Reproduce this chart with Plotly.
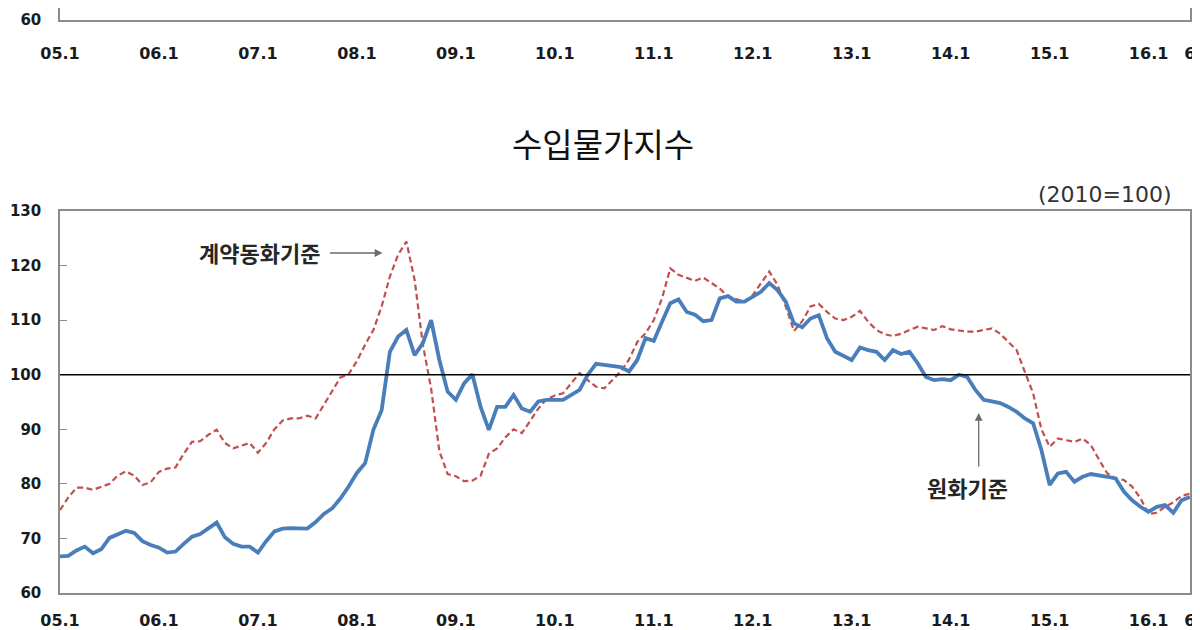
import plotly.graph_objects as go

# Months: 2005.01 .. 2016.06 (index 0..137)
tick_labels = ["05.1", "06.1", "07.1", "08.1", "09.1", "10.1", "11.1",
               "12.1", "13.1", "14.1", "15.1", "16.1", "6"]
tick_months = [0, 12, 24, 36, 48, 60, 72, 84, 96, 108, 120, 132, 137]

# 계약통화기준 (contract currency basis)
contract = [
    75.2, 77.5, 79.3, 79.3, 78.9, 79.5, 80.0, 81.5, 82.3, 81.5, 79.8, 80.3,
    82.2, 82.8, 83.0, 85.5, 87.7, 87.8, 89.0, 89.9, 87.5, 86.5, 87.0, 87.5,
    85.7, 87.5, 90.0, 91.6, 92.0, 92.0, 92.5, 92.0, 94.5, 97.0, 99.5, 100.1,
    102.5, 105.5, 108.2, 112.5, 118.0, 122.0, 124.4, 117.4, 105.5, 97.5, 86.0, 81.8,
    81.4, 80.5, 80.6, 81.5, 85.5, 86.5, 88.5, 90.0, 89.3, 91.5, 93.8, 95.5,
    96.2, 96.6, 98.5, 100.3, 99.0, 97.8, 97.5, 99.0, 100.6, 102.8, 106.0, 107.6,
    110.0, 114.0, 119.5, 118.3, 117.7, 117.2, 117.8, 116.8, 115.8, 114.3, 113.8, 113.4,
    114.6, 116.8, 118.9, 116.5, 112.5, 108.0, 109.8, 112.5, 113.0, 111.5, 110.3, 110.0,
    110.6, 111.7, 109.7, 108.2, 107.4, 107.1, 107.5, 108.2, 108.8, 108.5, 108.2, 108.9,
    108.3, 108.1, 107.9, 107.9, 108.2, 108.5, 107.5, 106.0, 104.5, 100.5, 96.6, 90.0,
    86.8, 88.3, 88.0, 87.7, 88.3, 87.1, 84.4, 81.9, 81.0, 80.7, 79.5, 77.4,
    74.5, 74.7, 75.8, 76.6, 77.8, 78.2,
]

# 원화기준 (KRW basis)
won = [
    66.7, 66.8, 67.8, 68.5, 67.3, 68.0, 70.1, 70.8, 71.4, 71.0, 69.5, 68.8,
    68.3, 67.4, 67.6, 69.0, 70.3, 70.8, 71.8, 72.9, 70.2, 69.0, 68.5, 68.5,
    67.4, 69.5, 71.3, 71.8, 71.9, 71.8, 71.8, 73.0, 74.5, 75.5, 77.3, 79.5,
    82.0, 83.8, 89.9, 93.5, 104.2, 107.0, 108.2, 103.6, 105.8, 110.0, 102.7, 96.9,
    95.4, 98.4, 100.1, 94.1, 89.9, 94.1, 94.1, 96.3, 93.8, 93.2, 95.1, 95.4,
    95.4, 95.4, 96.3, 97.2, 100.0, 102.0, 101.8, 101.6, 101.4, 100.6, 102.7, 106.7,
    106.2, 109.7, 113.1, 113.8, 111.5, 111.0, 109.8, 110.0, 114.0, 114.4, 113.4, 113.4,
    114.4, 115.2, 116.8, 115.5, 113.4, 109.4, 108.7, 110.3, 110.9, 106.7, 104.2, 103.4,
    102.7, 105.0, 104.5, 104.2, 102.7, 104.5, 103.8, 104.2, 102.1, 99.6, 99.0, 99.2,
    99.0, 100.0, 99.6, 97.2, 95.4, 95.1, 94.8, 94.1, 93.2, 92.0, 91.1, 86.2,
    79.8, 81.9, 82.2, 80.4, 81.3, 81.8, 81.6, 81.3, 81.0, 78.6, 77.0, 75.8,
    74.9, 75.8, 76.1, 74.7, 77.0, 77.6,
]

months = list(range(len(won)))

# the page body adds an 8px offset; lay out the figure in page pixels minus 8
OFF = 8
W, H = 1200 - OFF, 630 - OFF
L, R, B = 60 - OFF, W - (1190 - OFF), 630 - 593
H_PAPER = H - B            # paper height (top margin = 0)
PLOT_W = W - L - R


def py(page_y):
    return (H_PAPER - (page_y - OFF)) / H_PAPER


def px(page_x):
    return (page_x - OFF - L) / PLOT_W


fig = go.Figure()

fig.add_trace(go.Scatter(
    x=months, y=contract, mode="lines",
    line=dict(color="#C0504D", width=2.2, dash="6px,3.5px"),
    xaxis="x", yaxis="y", showlegend=False, hoverinfo="skip"))
fig.add_trace(go.Scatter(
    x=months, y=won, mode="lines",
    line=dict(color="#4A7EBB", width=3.8),
    xaxis="x", yaxis="y", showlegend=False, hoverinfo="skip"))

# remnant of the chart above (only its bottom edge visible)
fig.add_trace(go.Scatter(x=[0], y=[None], mode="lines", xaxis="x2", yaxis="y2",
                         showlegend=False, hoverinfo="skip"))

axis_line = "#8C8C8C"
tickfont = dict(family="DejaVu Sans", size=16, color="#1a1a1a", weight="bold")
ytickfont = dict(family="DejaVu Sans", size=15, color="#1a1a1a", weight="bold")
xr = [0, 137.02]

fig.update_layout(
    width=W, height=H,
    margin=dict(l=L, r=R, t=0, b=B),
    paper_bgcolor="white", plot_bgcolor="white",
    xaxis=dict(domain=[0, 1], range=xr, tickvals=tick_months, ticktext=tick_labels,
               showgrid=False, zeroline=False, showline=True, mirror=True,
               linecolor=axis_line, linewidth=1.5, ticks="", tickfont=tickfont,
               ticklabelstandoff=12, tickangle=0, automargin=False, anchor="y"),
    yaxis=dict(domain=[0, py(211)], range=[60, 130], dtick=10, showgrid=False,
               zeroline=False, showline=True, mirror=True, linecolor=axis_line,
               linewidth=1.5, ticks="inside", ticklen=7, tickcolor=axis_line,
               tickfont=ytickfont, ticklabelstandoff=14, automargin=False, anchor="x"),
    xaxis2=dict(domain=[0, 1], range=xr, tickvals=tick_months, ticktext=tick_labels,
                showgrid=False, zeroline=False, showline=True, mirror=False,
                linecolor=axis_line, linewidth=1.5, ticks="", tickfont=tickfont,
                ticklabelstandoff=18, tickangle=0, automargin=False, anchor="y2"),
    yaxis2=dict(domain=[py(20), 1], range=[60, 60 + 12 / 5.457], tickvals=[60],
                ticktext=["60"], showgrid=False, zeroline=False, showline=True,
                mirror=True, linecolor=axis_line, linewidth=1.5, ticks="inside",
                ticklen=7, tickcolor=axis_line, tickfont=ytickfont,
                ticklabelstandoff=14, automargin=False, anchor="x2"),
)

fig.add_shape(type="line", xref="x domain", yref="y", x0=0, x1=1, y0=100, y1=100,
              line=dict(color="black", width=1.6))

fig.add_annotation(xref="paper", yref="paper", x=px(603), y=py(143),
                   text="수입물가지수", showarrow=False,
                   font=dict(family="Noto Sans CJK KR", size=33, color="#111111"),
                   xanchor="center", yanchor="middle")
fig.add_annotation(xref="paper", yref="paper", x=px(1174), y=py(195),
                   text="(2010=100)", showarrow=False,
                   font=dict(family="DejaVu Sans", size=22, color="#333333"),
                   xanchor="right", yanchor="middle")

# labels with arrows
fig.add_annotation(x=24.2, y=122.5, xref="x", yref="y", text="계약동화기준",
                   showarrow=False,
                   font=dict(family="Noto Sans CJK KR", size=22, color="#262626", weight="bold"),
                   xanchor="center", yanchor="middle")
fig.add_annotation(x=39.1, y=122.3, xref="x", yref="y", text="", showarrow=True,
                   ax=-54, ay=0, arrowhead=2, arrowsize=1.2, arrowwidth=1.3,
                   arrowcolor="#6b6b6b")
fig.add_annotation(x=110.1, y=79.4, xref="x", yref="y", text="원화기준",
                   showarrow=False,
                   font=dict(family="Noto Sans CJK KR", size=22, color="#262626", weight="bold"),
                   xanchor="center", yanchor="middle")
fig.add_annotation(x=111.4, y=93.0, xref="x", yref="y", text="", showarrow=True,
                   ax=0, ay=55, arrowhead=2, arrowsize=1.2, arrowwidth=1.3,
                   arrowcolor="#6b6b6b")

fig.write_html("out.html")
